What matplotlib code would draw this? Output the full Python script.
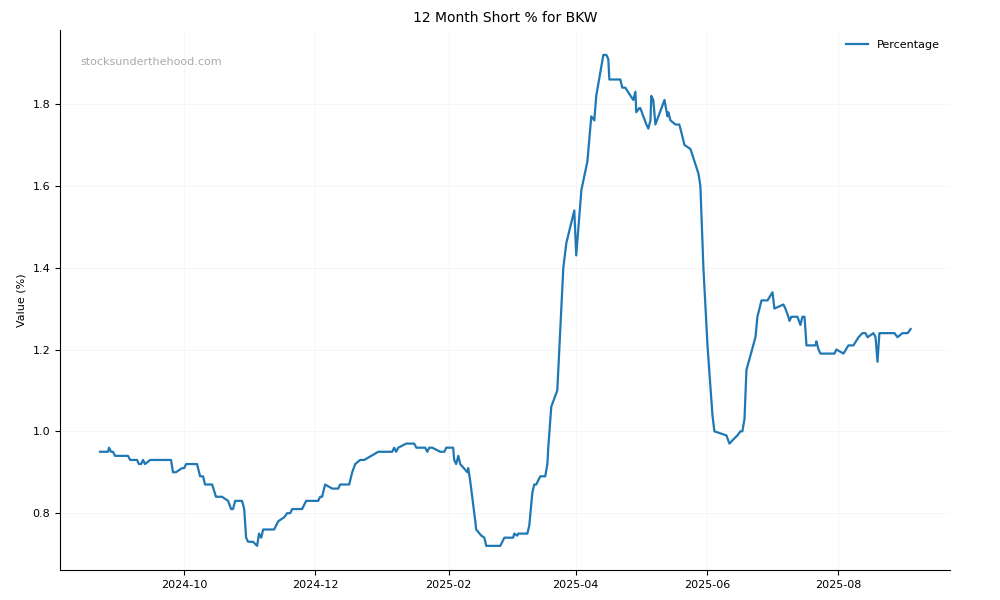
import matplotlib
matplotlib.use("Agg")
import matplotlib.pyplot as plt
import matplotlib.dates as mdates
import pandas as pd

start = "2024-08-23"
days = [0,3.7,4.2,5.1,6.0,7.0,13.0,14.0,17.2,18.1,19.1,20.0,20.9,23.3,33.0,33.9,35.3,38.1,39.1,40.0,
        45.1,46.5,47.9,48.8,52.1,53.9,56.7,59.5,60.9,61.8,62.8,66.0,67.0,67.9,68.8,71.1,73.0,73.9,74.9,75.8,
        80.9,82.8,85.6,87.0,88.4,89.3,93.9,95.8,101.4,102.3,103.2,104.6,107.9,110.7,111.6,115.8,117.2,118.6,120.9,122.8,
        129.3,135.8,136.7,137.6,138.6,142.3,146.0,147.0,151.1,152.1,153.0,154.4,158.1,160.0,160.9,164.1,164.6,165.5,166.5,167.4,
        170.7,171.1,172.0,174.4,174.8,177.2,178.6,179.5,186.0,187.9,192.0,192.5,193.9,194.4,198.6,199.5,200.9,201.8,202.7,204.6,
        206.9,207.9,208.3,209.7,212.5,213.9,215.3,216.7,220.4,221.3,223.7,226.5,228.3,229.7,230.6,233.9,235.3,236.2,236.7,241.8,
        242.7,244.1,247.8,248.8,249.2,250.6,251.1,253.9,254.8,255.8,256.2,257.1,258.1,262.3,263.7,264.1,265.1,267.4,269.2,270.2,
        271.6,274.4,278.1,279.0,280.4,282.3,284.6,285.5,291.1,292.5,294.3,296.2,297.6,298.5,299.5,300.4,304.6,305.5,307.4,310.2,
        312.5,313.4,317.6,318.5,319.9,320.4,321.3,324.1,325.5,326.4,327.4,328.3,332.5,332.9,333.9,334.8,341.3,342.2,345.5,347.8,
        350.1,352.5,354.3,355.7,356.7,359.4,360.4,361.3,362.2,369.2,370.6,372.9,375.3,376.7]
values = [0.95,0.95,0.96,0.95,0.95,0.94,0.94,0.93,0.93,0.92,0.92,0.93,0.92,0.93,0.93,0.90,0.90,0.91,0.91,0.92,
          0.92,0.89,0.89,0.87,0.87,0.84,0.84,0.83,0.81,0.81,0.83,0.83,0.81,0.74,0.73,0.73,0.72,0.75,0.74,0.76,
          0.76,0.78,0.79,0.80,0.80,0.81,0.81,0.83,0.83,0.84,0.84,0.87,0.86,0.86,0.87,0.87,0.90,0.92,0.93,0.93,
          0.95,0.95,0.96,0.95,0.96,0.97,0.97,0.96,0.96,0.95,0.96,0.96,0.95,0.95,0.96,0.96,0.93,0.92,0.94,0.92,
          0.90,0.91,0.88,0.78,0.76,0.745,0.74,0.72,0.72,0.74,0.74,0.75,0.745,0.75,0.75,0.77,0.85,0.87,0.87,0.89,
          0.89,0.92,0.96,1.06,1.10,1.25,1.40,1.46,1.54,1.43,1.59,1.66,1.77,1.76,1.82,1.92,1.92,1.91,1.86,1.86,
          1.84,1.84,1.81,1.83,1.78,1.79,1.79,1.75,1.74,1.76,1.82,1.81,1.75,1.81,1.77,1.78,1.76,1.75,1.75,1.73,
          1.70,1.69,1.63,1.60,1.40,1.21,1.04,1.00,0.99,0.97,0.98,0.99,1.00,1.00,1.03,1.15,1.23,1.28,1.32,1.32,
          1.34,1.30,1.31,1.30,1.28,1.27,1.28,1.28,1.26,1.28,1.28,1.21,1.21,1.22,1.20,1.19,1.19,1.20,1.19,1.21,
          1.21,1.23,1.24,1.24,1.23,1.24,1.23,1.17,1.24,1.24,1.23,1.24,1.24,1.25]

dates = pd.Timestamp(start) + pd.to_timedelta(days, unit="D")

fig = plt.figure(figsize=(10, 6), dpi=100)
ax = fig.add_axes([0.06, 0.05, 0.89, 0.90])
ax.plot(dates, values, color="#1f77b4", linewidth=1.6, label="Percentage")
ax.set_xlim(pd.Timestamp(start) - pd.Timedelta(days=18.6), pd.Timestamp(start) + pd.Timedelta(days=395))
ax.set_ylim(0.661, 1.981)
ax.xaxis.set_major_locator(mdates.MonthLocator(bymonth=[2,4,6,8,10,12]))
ax.xaxis.set_major_formatter(mdates.DateFormatter("%Y-%m"))
ax.set_yticks([0.8, 1.0, 1.2, 1.4, 1.6, 1.8])
ax.tick_params(labelsize=8)
ax.grid(True, color="#eeeeee", linewidth=0.6, alpha=0.6)
for s in ("top", "right"):
    ax.spines[s].set_visible(False)
ax.set_ylabel("Value (%)", fontsize=8)
ax.set_title("12 Month Short % for BKW", fontsize=10)
ax.text(0.023, 0.935, "stocksunderthehood.com", transform=ax.transAxes, fontsize=8, color="#aaaaaa")
ax.legend(loc="upper right", fontsize=8, frameon=False)
fig.savefig("out.png", dpi=100)
